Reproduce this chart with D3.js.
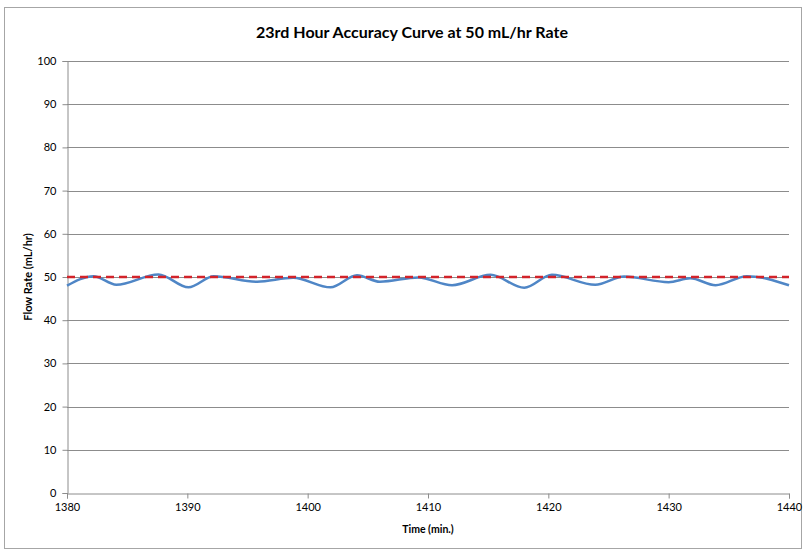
<!DOCTYPE html>
<html>
<head>
<meta charset="utf-8">
<script src="https://cdn.jsdelivr.net/npm/d3@7"></script>
<style>
  html, body { margin: 0; padding: 0; background: #fff; }
  svg { display: block; }
  text { font-family: Lato, "Open Sans", sans-serif; fill: #000; }
</style>
</head>
<body>
<svg id="chart" width="806" height="552"></svg>
<script>
// Measured flow rate during the 23rd hour (minutes 1380–1440)
const times = [1380, 1382.2, 1384.1, 1387.6, 1390.1, 1392.2, 1395.8, 1398.8, 1401.9, 1404.1, 1406.0, 1409.2,
               1412.0, 1415.2, 1418.0, 1420.3, 1423.9, 1426.3, 1430.0, 1431.8, 1433.9, 1436.5, 1440];
const flowRates = [48.0, 50.2, 48.2, 50.6, 47.6, 50.2, 48.9, 49.8, 47.6, 50.4, 48.9, 49.9,
                   48.1, 50.5, 47.5, 50.5, 48.2, 50.1, 48.8, 49.7, 48.1, 50.2, 48.1];
// Target rate reference line
const targetTimes = [1380, 1440];
const targetRates = [50, 50];
const xTicks = [1380, 1390, 1400, 1410, 1420, 1430, 1440];
const yTicks = [0, 10, 20, 30, 40, 50, 60, 70, 80, 90, 100];

const titleText = "23rd Hour Accuracy Curve at 50 mL/hr Rate";
const xTitle = "Time (min.)";
const yTitle = "Flow Rate (mL/hr)";

const svg = d3.select("#chart");
const plot = { left: 67, right: 789, top: 61, bottom: 493 };

const x = d3.scaleLinear().domain([1380, 1440]).range([plot.left, plot.right]);
const y = d3.scaleLinear().domain([0, 100]).range([plot.bottom, plot.top]);

// Outer chart border
svg.append("rect")
  .attr("x", 4.5).attr("y", 7.5).attr("width", 797).attr("height", 541)
  .attr("fill", "#fff").attr("stroke", "#a6a6a6").attr("stroke-width", 1);

// Horizontal gridlines
svg.append("g").selectAll("line")
  .data(yTicks.filter(d => d > 0))
  .join("line")
  .attr("x1", plot.left).attr("x2", plot.right)
  .attr("y1", d => Math.round(y(d)) + 0.5).attr("y2", d => Math.round(y(d)) + 0.5)
  .attr("stroke", "#8c8c8c").attr("stroke-width", 1);

// Y axis
const yAxis = svg.append("g")
  .attr("transform", `translate(${plot.left + 0.5},0)`)
  .call(d3.axisLeft(y).tickValues(yTicks).tickSize(5).tickPadding(6));
yAxis.select(".domain").attr("stroke", "#8c8c8c");
yAxis.selectAll(".tick line").attr("stroke", "#8c8c8c");
yAxis.selectAll(".tick text").attr("font-size", 11).attr("fill", "#000")
  .style("font-family", "Lato, 'Open Sans', sans-serif");

// X axis
const xAxis = svg.append("g")
  .attr("transform", `translate(0,${Math.round(y(0)) + 0.5})`)
  .call(d3.axisBottom(x).tickValues(xTicks).tickFormat(d3.format("d")).tickSize(5).tickPadding(5));
xAxis.select(".domain").attr("stroke", "#8c8c8c");
xAxis.selectAll(".tick line").attr("stroke", "#8c8c8c");
xAxis.selectAll(".tick text").attr("font-size", 11).attr("fill", "#000")
  .style("font-family", "Lato, 'Open Sans', sans-serif");

// Measured flow curve (smoothed)
const flowLine = d3.line()
  .x((d, i) => x(times[i]))
  .y(d => y(d))
  .curve(d3.curveMonotoneX);
svg.append("path")
  .datum(flowRates)
  .attr("d", flowLine)
  .attr("fill", "none")
  .attr("stroke", "#4f86c6")
  .attr("stroke-width", 2.5);

// Target reference line
const targetLine = d3.line()
  .x((d, i) => x(targetTimes[i]))
  .y(d => y(d));
svg.append("path")
  .datum(targetRates)
  .attr("d", targetLine)
  .attr("fill", "none")
  .attr("stroke", "#d2232a")
  .attr("stroke-width", 2.5)
  .attr("stroke-dasharray", "8,5");

// Titles
svg.append("text")
  .attr("x", 412).attr("y", 38)
  .attr("text-anchor", "middle")
  .attr("font-size", 16).attr("font-weight", "bold")
  .text(titleText);

svg.append("text")
  .attr("x", 428).attr("y", 533)
  .attr("text-anchor", "middle")
  .attr("font-size", 10.5).attr("font-weight", "bold")
  .text(xTitle);

svg.append("text")
  .attr("transform", `translate(32,277) rotate(-90)`)
  .attr("text-anchor", "middle")
  .attr("font-size", 11).attr("font-weight", "bold")
  .text(yTitle);
</script>
</body>
</html>
